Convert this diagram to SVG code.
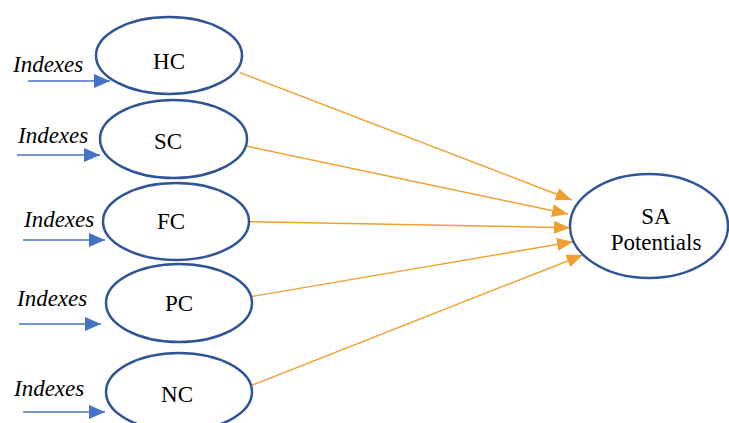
<svg xmlns="http://www.w3.org/2000/svg" width="729" height="423" viewBox="0 0 729 423">
<style>
.node{fill:#fff;stroke:#2F5597;stroke-width:2.5}
.lbl{font-family:'Liberation Serif','DejaVu Serif',serif;font-size:23px;fill:#000;text-anchor:middle}
.idx{font-family:'Liberation Serif','DejaVu Serif',serif;font-size:23px;font-style:italic;fill:#000}
.in{stroke:#4472C4;stroke-width:1.5;fill:none;marker-end:url(#ab)}
.out{stroke:#F0A030;stroke-width:1.4;fill:none;marker-end:url(#ao)}
</style>
<defs>
<marker id="ab" markerUnits="userSpaceOnUse" markerWidth="16" markerHeight="14" refX="16" refY="7" orient="auto"><path d="M0,0 L16,7 L0,14 z" fill="#4472C4"/></marker>
<marker id="ao" markerUnits="userSpaceOnUse" markerWidth="16" markerHeight="13" refX="16" refY="6.5" orient="auto"><path d="M0,0 L16,6.5 L0,13 z" fill="#F0A030"/></marker>
</defs>
<rect width="729" height="423" fill="#fff"/>
<g id="connectors">
<line class="in" x1="28" y1="81" x2="110" y2="81"/>
<line class="in" x1="17" y1="155" x2="100" y2="155"/>
<line class="in" x1="23" y1="240" x2="105" y2="240"/>
<line class="in" x1="19" y1="324" x2="101" y2="324"/>
<line class="in" x1="23" y1="412" x2="105" y2="412"/>
<line class="out" x1="240" y1="72.7" x2="571.7" y2="200"/>
<line class="out" x1="246" y1="146" x2="568" y2="214"/>
<line class="out" x1="250" y1="221.7" x2="570" y2="227.7"/>
<line class="out" x1="250.7" y1="296.7" x2="573" y2="241.7"/>
<line class="out" x1="250.7" y1="385.7" x2="582.7" y2="255"/>
</g>
<g id="indexes" font-family="Liberation Serif, DejaVu Serif, serif">
<text class="idx" x="13" y="72">Indexes</text>
<text class="idx" x="18" y="143">Indexes</text>
<text class="idx" x="24" y="227">Indexes</text>
<text class="idx" x="17" y="306">Indexes</text>
<text class="idx" x="14" y="396">Indexes</text>
</g>
<g id="HC"><ellipse class="node" cx="169" cy="55.5" rx="73" ry="38.5"/><text class="lbl" x="169" y="69">HC</text></g>
<g id="SC"><ellipse class="node" cx="173.5" cy="139" rx="73.5" ry="39"/><text class="lbl" x="168" y="149">SC</text></g>
<g id="FC"><ellipse class="node" cx="176" cy="221.5" rx="73" ry="38.5"/><text class="lbl" x="171" y="229">FC</text></g>
<g id="PC"><ellipse class="node" cx="179" cy="303" rx="73" ry="39"/><text class="lbl" x="179" y="311">PC</text></g>
<g id="NC"><ellipse class="node" cx="179" cy="392" rx="73" ry="39"/><text class="lbl" x="177" y="402">NC</text></g>
<g id="SA"><ellipse class="node" cx="649" cy="226" rx="79" ry="52"/><text class="lbl" x="656" y="224">SA</text><text class="lbl" x="656" y="250">Potentials</text></g>
</svg>
